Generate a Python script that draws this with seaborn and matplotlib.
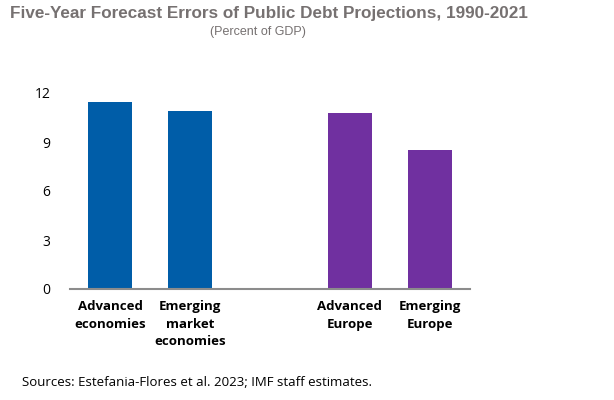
import pandas as pd
import matplotlib
matplotlib.use("Agg")
import matplotlib.pyplot as plt
import seaborn as sns

# --- data ---
groups = ["Advanced\neconomies", "Emerging\nmarket\neconomies", "Advanced\nEurope", "Emerging\nEurope"]
errors = [11.45, 10.9, 10.75, 8.5]
region = ["World", "World", "Europe", "Europe"]
slot_order = [groups[0], groups[1], " ", groups[2], groups[3]]
y_ticks = [0, 3, 6, 9, 12]

df = pd.DataFrame({"group": groups, "error": errors, "region": region})
colors = {"World": "#005DA8", "Europe": "#7030A0"}

sns.set_style("white")
plt.rcParams["font.family"] = ["Open Sans", "DejaVu Sans"]

fig = plt.figure(figsize=(6.14, 4.0), dpi=100)
ax = fig.add_axes([0.114, 0.2775, 0.651, 0.49])

sns.barplot(data=df, x="group", y="error", hue="region", order=slot_order,
            palette=colors, dodge=False, width=0.55, legend=False, ax=ax,
            edgecolor="none", saturation=1)

ax.set_ylim(0, 12)
ax.set_yticks(y_ticks)
ax.set_xlim(-0.5, 4.5)
ax.set_xlabel("")
ax.set_ylabel("")
for s in ["top", "right", "left"]:
    ax.spines[s].set_visible(False)
ax.spines["bottom"].set_color("#8c8c8c")
ax.spines["bottom"].set_linewidth(1.5)
ax.tick_params(axis="both", length=0, labelsize=10, colors="black")
ax.tick_params(axis="y", pad=14)
ax.tick_params(axis="x", pad=8)
ax.set_xticks(range(len(slot_order)))
ax.set_xticklabels(slot_order, fontweight="bold", fontsize=9.5, linespacing=1.45,
                   va="top")

fig.text(0.017, 0.955, "Five-Year Forecast Errors of Public Debt Projections, 1990-2021",
         family="Liberation Sans", fontsize=12.3, fontweight="bold", color="#767171")
fig.text(0.42, 0.912, "(Percent of GDP)", family="Liberation Sans", fontsize=9,
         color="#767171", ha="center")
fig.text(0.036, 0.036, "Sources: Estefania-Flores et al. 2023; IMF staff estimates.",
         fontsize=9.5, color="black")

fig.savefig("out.png", dpi=100)
